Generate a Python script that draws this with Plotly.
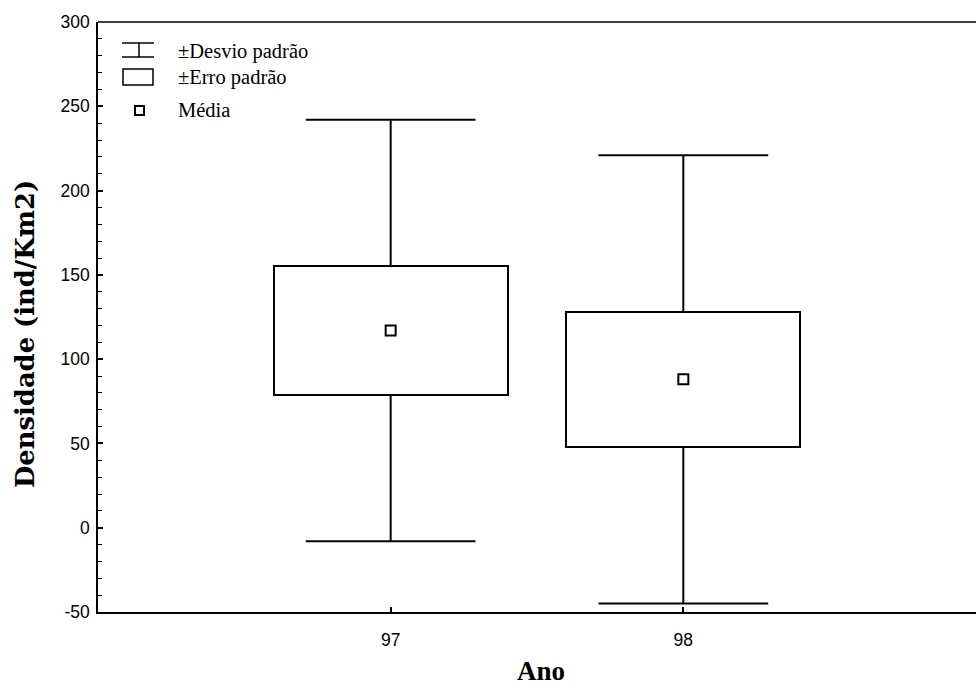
import plotly.graph_objects as go

# ---- data ----
years = [97, 98]
year_labels = ["97", "98"]
mean = [117, 88]
sd = [125, 133]      # ± desvio padrão
se = [38, 40]        # ± erro padrão

y_ticks = [-50, 0, 50, 100, 150, 200, 250, 300]
legend_labels = ["\u00b1Desvio padrão", "\u00b1Erro padrão", "Média"]

W, H = 976, 692
ML, MR, MT, MB = 98, 0, 22, 80
PW, PH = W - ML - MR, H - MT - MB

BOX_W = 0.8
CAP_W = 0.58
LINE_C = "black"

fig = go.Figure()

# boxes: mean ± SE
fig.add_trace(go.Bar(
    x=years,
    y=[2 * s for s in se],
    base=[m - s for m, s in zip(mean, se)],
    width=BOX_W,
    marker=dict(color="white", line=dict(color=LINE_C, width=2)),
    showlegend=False, hoverinfo="skip",
))

# whisker stems (from box edge to mean ± SD)
wx, wy = [], []
for x, m, s, e in zip(years, mean, sd, se):
    wx += [x, x, None, x, x, None]
    wy += [m + e, m + s, None, m - e, m - s, None]
fig.add_trace(go.Scatter(x=wx, y=wy, mode="lines",
                         line=dict(color=LINE_C, width=2),
                         showlegend=False, hoverinfo="skip"))

# caps
cx, cy = [], []
for x, m, s in zip(years, mean, sd):
    for v in (m + s, m - s):
        cx += [x - CAP_W / 2, x + CAP_W / 2, None]
        cy += [v, v, None]
fig.add_trace(go.Scatter(x=cx, y=cy, mode="lines",
                         line=dict(color=LINE_C, width=2),
                         showlegend=False, hoverinfo="skip"))

# mean markers
fig.add_trace(go.Scatter(x=years, y=mean, mode="markers",
                         marker=dict(symbol="square-open", size=10,
                                     color=LINE_C, line=dict(width=2, color=LINE_C)),
                         showlegend=False, hoverinfo="skip"))


def px(xp):
    return (xp - ML) / PW


def py(yp):
    return (H - MB - yp) / PH


shapes = []
# top frame line
shapes.append(dict(type="line", xref="paper", yref="paper", x0=0, x1=1, y0=1, y1=1,
                   line=dict(color=LINE_C, width=1.5)))

# legend symbols
lw = 1.5
shapes += [
    dict(type="line", xref="paper", yref="paper", x0=px(122), x1=px(154), y0=py(43), y1=py(43),
         line=dict(color=LINE_C, width=lw)),
    dict(type="line", xref="paper", yref="paper", x0=px(122), x1=px(154), y0=py(57), y1=py(57),
         line=dict(color=LINE_C, width=lw)),
    dict(type="line", xref="paper", yref="paper", x0=px(139), x1=px(139), y0=py(43), y1=py(57),
         line=dict(color=LINE_C, width=lw)),
    dict(type="rect", xref="paper", yref="paper", x0=px(123), x1=px(153), y0=py(69), y1=py(85),
         line=dict(color=LINE_C, width=lw), fillcolor="white"),
    dict(type="rect", xref="paper", yref="paper", x0=px(135), x1=px(144), y0=py(106), y1=py(115),
         line=dict(color=LINE_C, width=2), fillcolor="white"),
]

annotations = []
for lab, yc in zip(legend_labels, [51, 78, 110]):
    annotations.append(dict(text=lab, xref="paper", yref="paper", x=px(176), y=py(yc),
                            xanchor="left", yanchor="middle", showarrow=False,
                            font=dict(family="Liberation Serif", size=20.5, color="black")))

# axis titles
annotations.append(dict(text="<b>Ano</b>", xref="paper", yref="paper", x=px(541), y=py(671),
                        xanchor="center", yanchor="middle", showarrow=False,
                        font=dict(family="Liberation Serif", size=27, color="black")))
annotations.append(dict(text="<b>Densidade (ind/Km2)</b>", xref="paper", yref="paper",
                        x=px(25), y=py(334), xanchor="center", yanchor="middle",
                        textangle=-90, showarrow=False,
                        font=dict(family="DejaVu Serif", size=25.8, color="black")))

tick_font = dict(family="Liberation Sans", size=17.5, color="black")

fig.update_layout(
    width=W, height=H,
    margin=dict(l=ML, r=MR, t=MT, b=MB, pad=0),
    paper_bgcolor="white", plot_bgcolor="white",
    shapes=shapes, annotations=annotations,
    bargap=0,
    xaxis=dict(range=[96, 99], tickmode="array", tickvals=years, ticktext=year_labels,
               ticks="inside", ticklen=5, tickwidth=1.5, tickcolor=LINE_C,
               showline=True, linecolor=LINE_C, linewidth=1.5,
               showgrid=False, zeroline=False, ticklabelstandoff=11,
               tickfont=tick_font),
    yaxis=dict(range=[-50, 300], tickmode="array", tickvals=y_ticks,
               ticktext=[str(v) for v in y_ticks],
               ticks="inside", ticklen=5, tickwidth=1.5, tickcolor=LINE_C,
               minor=dict(dtick=10, ticks="inside", ticklen=4, tickwidth=1.2,
                          tickcolor=LINE_C, showgrid=False),
               showline=True, linecolor=LINE_C, linewidth=1.5,
               showgrid=False, zeroline=False, ticklabelstandoff=3,
               tickfont=tick_font),
)

fig.write_html("out.html")
